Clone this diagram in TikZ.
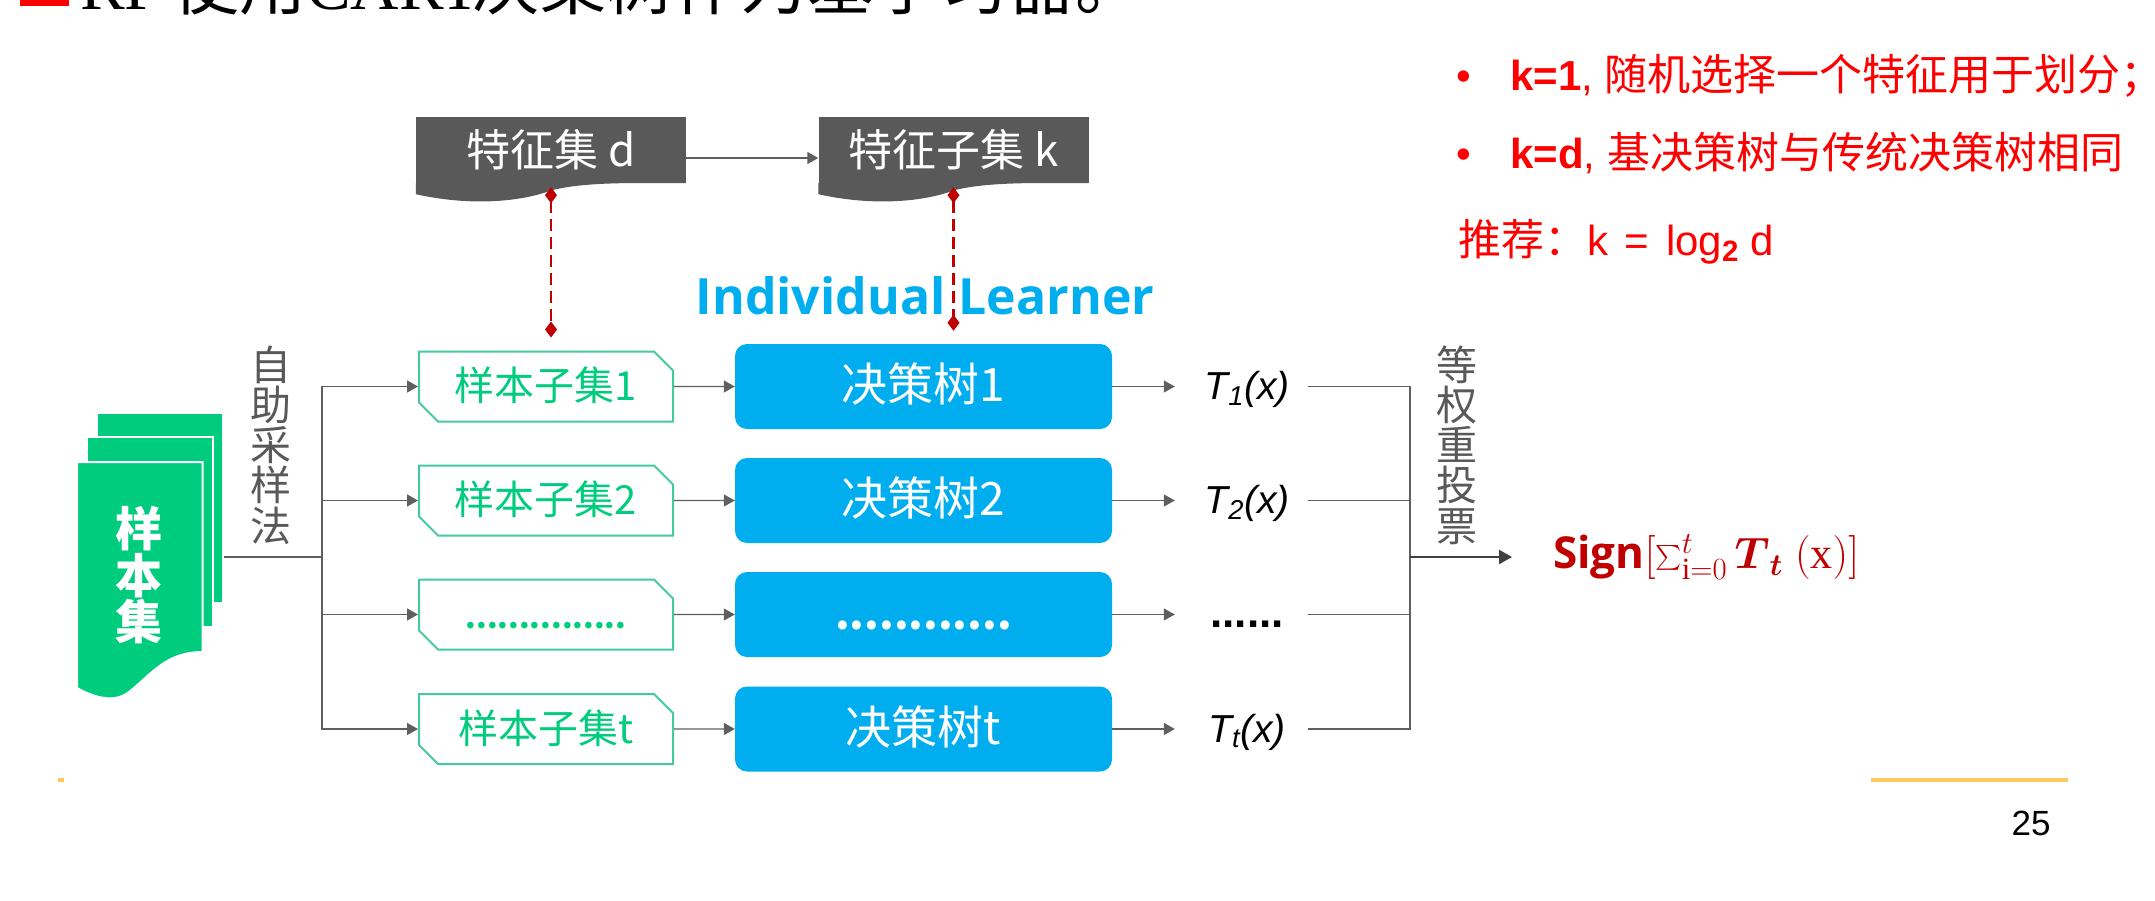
\documentclass[tikz,border=0pt]{standalone}
\usepackage{fix-cm}
\usepackage{amsmath}
\usepackage{fontspec}
\setmainfont{Liberation Sans}
\setmathrm{Liberation Serif}
\newfontfamily\cjk{Noto Sans CJK SC}
\newfontfamily\headfont{Open Sans}
\newfontfamily\titlefont{Liberation Serif}
\usetikzlibrary{calc,positioning,arrows.meta,shapes.misc}
\definecolor{docgray}{HTML}{595959}
\definecolor{linegray}{HTML}{5F5F5F}
\definecolor{leafgreen}{HTML}{00CC7E}
\definecolor{edgegreen}{HTML}{45C9A2}
\definecolor{treeblue}{HTML}{00AEEF}
\definecolor{darkred}{HTML}{C00000}
\definecolor{footorange}{HTML}{FFC85F}
\tikzset{
  wire/.style={line width=1.4pt, draw=linegray},
  conn/.style={wire, -{Triangle[length=11pt,width=12pt]}},
  pick/.style={line width=2.4pt, draw=darkred, dash pattern=on 12pt off 6pt,
    {Diamond[length=16pt,width=12pt]}-{Diamond[length=16pt,width=12pt]}},
  docbox/.style={fill=docgray, text=white, inner sep=0pt, minimum width=270pt, minimum height=66pt,
    font=\cjk\fontsize{44}{44}\selectfont},
  page/.style={fill=leafgreen, draw=white, line width=2pt, inner sep=0pt},
  subbox/.style={chamfered rectangle, chamfered rectangle corners={north east,south west},
    chamfered rectangle xsep=11pt, chamfered rectangle ysep=8pt,
    draw=edgegreen, fill=white, line width=2pt, text=leafgreen, inner sep=0pt,
    minimum width=254pt, minimum height=70pt, text height=30pt, text depth=2pt,
    font=\cjk\fontsize{40}{40}\selectfont},
  treebox/.style={rectangle, rounded corners=12pt, fill=treeblue, text=white, inner sep=0pt,
    minimum width=377pt, minimum height=85pt, text height=32pt, text depth=2pt,
    font=\cjk\fontsize{46}{46}\selectfont},
  outlabel/.style={inner sep=0pt, minimum width=122pt, text height=28pt, text depth=2pt,
    font=\itshape\fontsize{39}{39}\selectfont},
  upright/.style={inner sep=0pt, align=center, text=docgray, font=\cjk\fontsize{41}{40.2}\selectfont},
  note/.style={anchor=base west, inner sep=0pt, text=red, font=\fontsize{42}{42}\selectfont}
}
\begin{document}
\begin{tikzpicture}[x=1pt,y=-1pt]
  \clip (0,0) rectangle (2155,900);
  % title, cut by the top edge
  \fill[red] (20,-2) rectangle (69,6);
  \node[anchor=base west,inner sep=0pt] (title) at (80,9)
    {\fontsize{67}{67}\selectfont\titlefont RF\hspace{10pt}\cjk 使用\titlefont CART\hspace{-8pt}\cjk 决策树作为基学习器。};
  % feature boxes
  \node[docbox] (featd) at (551,150) {特征集 d};
  \node[docbox] (featk) at (953.5,150) {特征子集 k};
  \foreach \n in {featd,featk}{
    \fill[docgray,shift={(\n.south west)}] (0,0) -- (0,11) .. controls (54,23) and (104,19) .. (136,7)
      .. controls (172,-2) and (226,0) .. (270,0) -- cycle;
  }
  \draw[conn] ([yshift=-8pt]featd.east) -- ([yshift=-8pt]featk.west);
  \node[inner sep=0pt,text=treeblue] (learner) at (925,296)
    {\headfont\bfseries\fontsize{50}{50}\selectfont Individual Learner};
  % sample stack
  \node[page,minimum width=126pt,minimum height=190pt] (pageback) at (160,508) {};
  \node[page,minimum width=126pt,minimum height=190pt] (pagemid) at (150,532) {};
  \fill[leafgreen,draw=white,line width=2pt] (77,462) -- (202.5,462) -- (202.5,652)
    .. controls (165,652) and (150,676) .. (129,692)
    .. controls (118,701) and (100,701) .. (77,688) -- cycle;
  \node[inner sep=0pt,align=center,text=white,font=\cjk\bfseries\fontsize{47}{46.5}\selectfont] (stack) at (139,575)
    {样\\本\\集};
  \coordinate (split) at (322,557);
  \draw[wire] (pageback.east |- split) -- (split);
  \node[upright] (boot) at (271,445) {自\\助\\采\\样\\法};
  % rows
  \foreach \n/\y/\sub/\tree/\out in {
    1/386.5/样本子集1/决策树1/{T\textsubscript{1}(x)},
    2/500.5/样本子集2/决策树2/{T\textsubscript{2}(x)},
    3/614.5/{\bfseries\fontsize{30.5}{30}\selectfont ...............}/{\bfseries\fontsize{42}{42}\selectfont ............}/{\upshape\bfseries\fontsize{44}{44}\selectfont ......\hspace{6pt}},
    4/729/样本子集t/决策树t/{T\textsubscript{t}(x)}}{
    \node[subbox] (sub\n) at (546,\y) {\sub};
    \node[treebox] (tree\n) at (923.5,\y) {\tree};
    \node[outlabel] (out\n) at (1247,\y) {\out};
    \draw[conn] (split) |- (sub\n.west);
    \draw[conn] (sub\n) -- (tree\n);
    \draw[conn] (tree\n) -- ([xshift=-11pt]out\n.west);
  }
  \coordinate (vote) at (1410,557);
  \foreach \n in {1,...,4}{
    \draw[wire] (out\n.east) -| (vote);
  }
  \node[upright] (weight) at (1457,445) {等\\权\\重\\投\\票};
  \node[anchor=west,inner sep=0pt,text=darkred] (sign) at (1553,557)
    {\fontsize{44}{50}\selectfont{\headfont\bfseries Sign}$[\textstyle\sum_{\mathrm{i}=0}^{t}\boldsymbol{T}_{\boldsymbol{t}}\ (\mathrm{x})]$};
  \draw[line width=2.4pt,draw=black!75,-{Triangle[length=13pt,width=14pt]}] (vote) -- ([xshift=-41pt]sign.west);
  % dashed links
  \draw[pick] ([yshift=-4pt]featd.south) -- ([yshift=13pt]featd.south |- sub1.north);
  \draw[pick] ([yshift=-4pt]featk.south) -- ([yshift=13pt]featk.south |- tree1.north);
  % notes on k
  \node[note] (bullet1) at (1456,90) {•};
  \node[note] (bullet2) at (1456,168) {•};
  \node[note] (noted1) at (1510,90) {\makebox[94pt][l]{\bfseries k=1\mdseries, }\cjk\fontsize{43}{43}\selectfont 随机选择一个特征用于划分；};
  \node[note] (noted2) at (1510,168) {\makebox[97pt][l]{\bfseries k=d\mdseries, }\cjk\fontsize{43}{43}\selectfont 基决策树与传统决策树相同};
  \node[note] (noted3) at (1458,255) {{\cjk\fontsize{43}{43}\selectfont 推荐：}k\hspace{5pt} = \hspace{5pt}log\textsubscript{\bfseries 2} d};
  % footer
  \fill[footorange] (1871,778) rectangle (2068,782);
  \fill[footorange] (58,778) rectangle (64,782);
  \node[inner sep=0pt,font=\fontsize{35}{35}\selectfont] (pagenum) at (2031,823) {25};
\end{tikzpicture}
\end{document}
